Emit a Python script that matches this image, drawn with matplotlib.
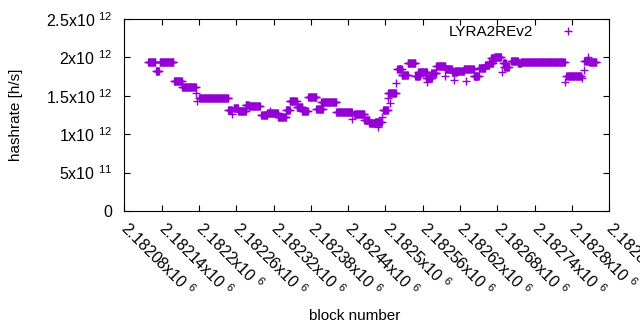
"""
LYRA2REv2 network hashrate per block, gnuplot look.
"""

import numpy as np
import matplotlib.pyplot as plt

BASE = 2182000

# runs of blocks carrying the same hashrate estimate
# (block - 2182000, first and last block), rate in 1e12 h/s
run_first = [118, 131, 137, 160, 173, 200, 247, 256, 263, 275, 280, 300, 310, 327,
             340, 346, 357, 366, 376, 389, 397, 421, 450, 466, 474, 483, 496, 504,
             519, 526, 536, 548, 553, 566, 574, 582, 596, 607, 611, 626, 642, 650,
             660, 667, 670, 675, 689, 691, 702, 713, 718, 791, 820, 828]
run_last = [130, 136, 159, 172, 195, 247, 253, 263, 275, 280, 298, 310, 327, 340,
            346, 357, 366, 375, 389, 399, 421, 446, 466, 474, 483, 494, 504, 517,
            526, 536, 548, 555, 567, 575, 582, 596, 607, 615, 626, 642, 650, 660,
            667, 673, 677, 686, 694, 698, 713, 718, 788, 815, 828, 839]
run_rate = [1.936, 1.819, 1.936, 1.689, 1.615, 1.467, 1.311, 1.341, 1.306, 1.380,
            1.363, 1.250, 1.272, 1.228, 1.315, 1.436, 1.350, 1.302, 1.480, 1.324,
            1.415, 1.285, 1.259, 1.185, 1.146, 1.159, 1.315, 1.540, 1.845, 1.767,
            1.931, 1.758, 1.814, 1.728, 1.801, 1.884, 1.845, 1.806, 1.827, 1.845,
            1.758, 1.866, 1.895, 1.923, 1.988, 2.001, 1.923, 1.879, 1.957, 1.931,
            1.936, 1.758, 1.957, 1.936]

# single blocks off the runs
single_block = [196, 197, 254, 314, 446, 488, 494, 504, 508, 517, 567, 596, 610,
                630, 646, 687, 789, 816, 819, 826]
single_rate = [1.533, 1.432, 1.259, 1.306, 1.202, 1.094, 1.228, 1.467, 1.410, 1.663,
               1.676, 1.758, 1.710, 1.697, 1.758, 1.806, 1.680, 1.736, 1.836, 2.005]

x_tick_labels = ["2.18208", "2.18214", "2.1822", "2.18226", "2.18232", "2.18238",
                 "2.18244", "2.1825", "2.18256", "2.18262", "2.18268", "2.18274",
                 "2.1828", "2.18286"]
y_ticks = [0, 5e11, 1e12, 1.5e12, 2e12, 2.5e12]
y_tick_labels = ["0", "5x10 $^{11}$", "1x10 $^{12}$", "1.5x10 $^{12}$",
                 "2x10 $^{12}$", "2.5x10 $^{12}$"]


def _main():
    plt.rcParams["font.family"] = ["Liberation Sans", "DejaVu Sans"]
    plt.rcParams["mathtext.fontset"] = "custom"
    plt.rcParams["mathtext.rm"] = "Liberation Sans"
    plt.rcParams["mathtext.it"] = "Liberation Sans"
    plt.rcParams["font.size"] = 11

    # expand the runs into one point per block
    blocks = [np.arange(a, b + 1) for a, b in zip(run_first, run_last)]
    rates = [np.full(len(bl), r) for bl, r in zip(blocks, run_rate)]
    blocks = np.concatenate(blocks + [np.array(single_block)]) + BASE
    rates = np.concatenate(rates + [np.array(single_rate)]) * 1e12

    fig = plt.figure(figsize=(6.4, 3.3), dpi=100)
    ax = fig.add_axes([124.3 / 640, 119 / 330, 485 / 640, 192 / 330])

    ax.plot(blocks, rates, linestyle="none", marker="+", markersize=6.2,
            markeredgewidth=1.0, color="#9400d3", label="LYRA2REv2")

    x_ticks = [float(s) * 1e6 for s in x_tick_labels]
    ax.set_xlim(x_ticks[0], x_ticks[-1])
    ax.set_ylim(y_ticks[0], y_ticks[-1])
    ax.set_xticks(x_ticks)
    ax.set_xticklabels([s + "x10 $^{6}$" for s in x_tick_labels],
                       rotation=-45, ha="left", va="center",
                       rotation_mode="anchor", fontsize=11.5)
    ax.set_yticks(y_ticks)
    ax.set_yticklabels(y_tick_labels, fontsize=11.5)

    ax.tick_params(direction="in", length=4, width=0.8, top=True, right=True,
                   colors="black")
    ax.tick_params(axis="y", pad=8.5)
    ax.tick_params(axis="x", pad=10)
    for s in ax.spines.values():
        s.set_linewidth(0.8)

    fig.text(16 / 640, 1 - 115 / 330, "hashrate [h/s]", rotation=90,
             ha="center", va="center")
    fig.text(355 / 640, 1 - 316 / 330, "block number", ha="center", va="center")

    ax.legend(loc="center right", bbox_to_anchor=(587 / 640, 1 - 32 / 330),
              bbox_transform=fig.transFigure, frameon=False, markerfirst=False,
              handlelength=2.5, handletextpad=1.0, borderpad=0, borderaxespad=0)

    fig.savefig("out.png", dpi=100)


if __name__ == "__main__":
    _main()
